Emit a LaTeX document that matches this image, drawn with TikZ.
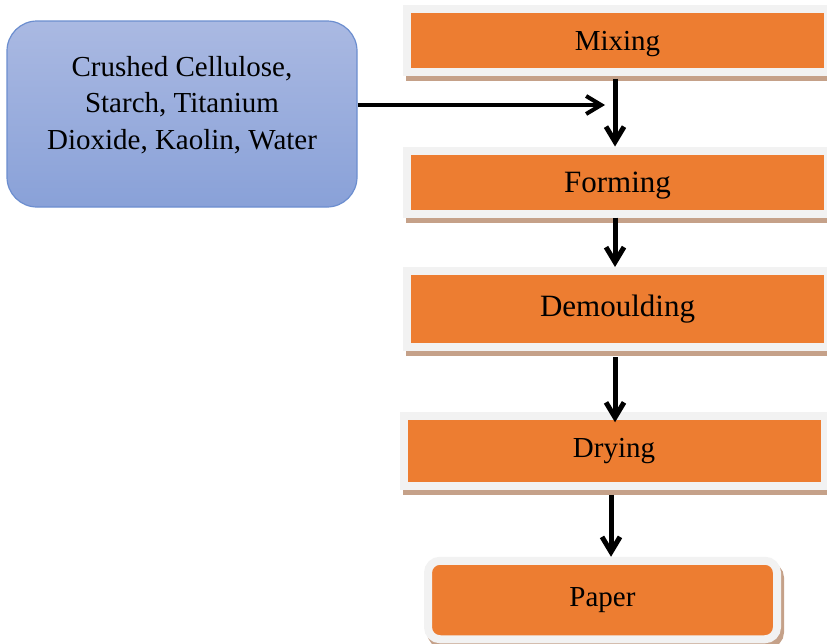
\documentclass[tikz,border=0pt]{standalone}
\usepackage{fontspec}
\setmainfont{Liberation Serif}
\usetikzlibrary{positioning,arrows.meta}
\definecolor{stepOrange}{HTML}{ED7D31}
\definecolor{frameGray}{HTML}{F2F2F2}
\definecolor{shadowBrown}{HTML}{C5A189}
\definecolor{inTop}{HTML}{AAB9E2}
\definecolor{inBot}{HTML}{89A1D8}
\definecolor{inLine}{HTML}{6C8ECF}
\tikzset{
  >={Straight Barb[length=15pt,width=18pt]},
  stepbox/.style={
    fill=stepOrange,
    draw=frameGray,
    line width=8pt,
    minimum width=421pt,
    font=\fontsize{29}{35}\selectfont,
    preaction={draw=shadowBrown, fill=shadowBrown,
      transform canvas={xshift=3pt,yshift=-5pt}}
  },
  inputbox/.style={
    draw=inLine,
    line width=1.2pt,
    rounded corners=30pt,
    top color=inTop,
    bottom color=inBot,
    align=center,
    minimum width=350pt,
    minimum height=186pt,
    text depth=23pt,
    font=\fontsize{29}{36.5}\selectfont
  },
  flow/.style={->, line width=5pt}
}

\begin{document}
\begin{tikzpicture}[x=1pt,y=-1pt]
  \useasboundingbox (0,0) rectangle (827,643);

  \node[inputbox] (input) at (182,114) {Crushed Cellulose,\\Starch, Titanium\\Dioxide, Kaolin, Water};

  \node[stepbox, minimum height=63pt, text height=27pt, text depth=7pt] (mix) at (617.5,40) {Mixing};
  \node[stepbox, minimum height=63pt, text height=28pt, text depth=7pt, font=\fontsize{31}{37}\selectfont] (form) at (617.5,182) {Forming};
  \node[stepbox, minimum height=76pt, font=\fontsize{31}{37}\selectfont] (demould) at (617.5,309) {Demoulding};
  \node[stepbox, minimum height=69.5pt] (dry) at (614,451) {Drying};
  \node[stepbox, minimum height=78.5pt, minimum width=349pt, rounded corners=12pt] (paper) at (602.5,600) {Paper};

  \draw[->, line width=4pt, shorten >=12.5pt] ([yshift=9pt]input.east) -- ([yshift=9pt]input.east -| mix.south);
  \draw[flow, shorten <=3pt] ([xshift=-2.5pt]mix.south) -- ([xshift=-2.5pt]mix.south |- form.north);
  \draw[flow] ([xshift=-2.5pt]form.south) -- ([xshift=-2.5pt]form.south |- demould.north);
  \draw[flow, shorten <=6pt, shorten >=-10pt] ([xshift=-2.5pt]demould.south) -- ([xshift=-2.5pt]demould.south |- dry.north);
  \draw[flow, shorten <=5pt] ([xshift=-3pt]dry.south) -- ([xshift=-3pt]dry.south |- paper.north);
\end{tikzpicture}
\end{document}
